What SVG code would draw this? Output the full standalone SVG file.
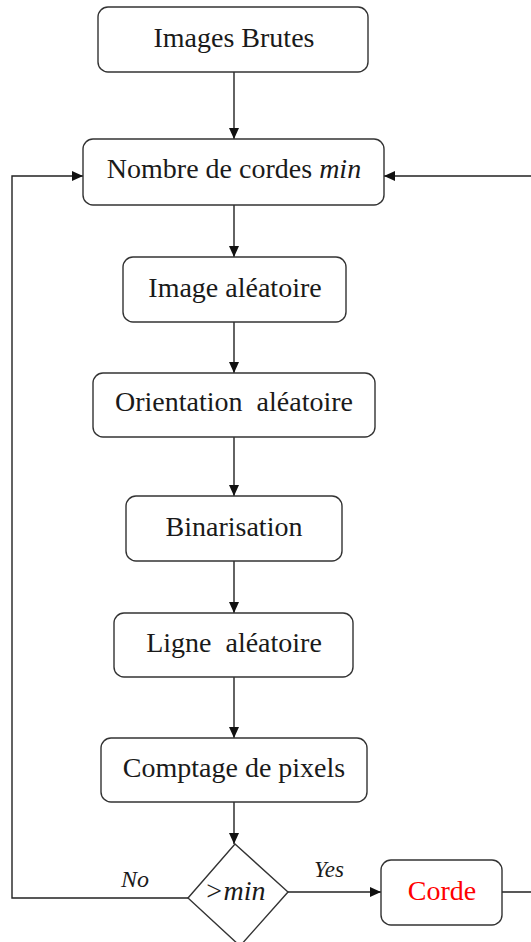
<svg xmlns="http://www.w3.org/2000/svg" width="531" height="942" viewBox="0 0 531 942">
<style>
.box{fill:#fff;stroke:#333;stroke-width:1.4}
.t{font-family:"Liberation Serif","Times New Roman",serif;font-size:28px;fill:#1a1a1a;text-anchor:middle;white-space:pre}
.i{font-style:italic}
.c{fill:none;stroke:#222;stroke-width:1.4}
</style>
<defs>
<marker id="ah" viewBox="0 0 11 11" refX="11" refY="5.5" markerWidth="11" markerHeight="11" markerUnits="userSpaceOnUse" orient="auto">
<path d="M0,0.5 L11,5.5 L0,10.5 z" fill="#111"/>
</marker>
</defs>
<g id="connectors">
<path class="c" d="M234,72 V139" marker-end="url(#ah)"/>
<path class="c" d="M234,205 V257" marker-end="url(#ah)"/>
<path class="c" d="M234,322 V373" marker-end="url(#ah)"/>
<path class="c" d="M234,437 V496" marker-end="url(#ah)"/>
<path class="c" d="M234,561 V613" marker-end="url(#ah)"/>
<path class="c" d="M234,677 V738" marker-end="url(#ah)"/>
<path class="c" d="M234,802 V844" marker-end="url(#ah)"/>
<path class="c" d="M188,898 H12 V176 H83" marker-end="url(#ah)"/>
<path class="c" d="M288,892 H381" marker-end="url(#ah)"/>
<path class="c" d="M502,892 H533 V176 H384" marker-end="url(#ah)"/>
<text class="t i" x="135" y="887" style="font-size:24px">No</text>
<text class="t i" x="329" y="877" style="font-size:23px">Yes</text>
</g>
<g id="n1"><rect class="box" x="98" y="7" width="270" height="65" rx="10"/><text class="t" x="234" y="47">Images Brutes</text></g>
<g id="n2"><rect class="box" x="83" y="139" width="301" height="66" rx="10"/><text class="t" x="234" y="178">Nombre de cordes <tspan class="i">min</tspan></text></g>
<g id="n3"><rect class="box" x="123" y="257" width="223" height="65" rx="10"/><text class="t" x="235" y="297">Image aléatoire</text></g>
<g id="n4"><rect class="box" x="93" y="373" width="282" height="64" rx="10"/><text class="t" x="234" y="411">Orientation  aléatoire</text></g>
<g id="n5"><rect class="box" x="126" y="496" width="216" height="65" rx="10"/><text class="t" x="234" y="536">Binarisation</text></g>
<g id="n6"><rect class="box" x="114" y="613" width="239" height="64" rx="10"/><text class="t" x="234" y="652">Ligne  aléatoire</text></g>
<g id="n7"><rect class="box" x="101" y="738" width="266" height="64" rx="10"/><text class="t" x="234" y="777">Comptage de pixels</text></g>
<g id="n8"><path class="box" d="M235,844 L288,892 L240,946 L188,898 Z"/><text class="t i" x="235" y="900">&gt;min</text></g>
<g id="n9"><rect class="box" x="381" y="860" width="121" height="65" rx="10"/><text class="t" x="442" y="900" style="fill:#ff0000">Corde</text></g>
</svg>
